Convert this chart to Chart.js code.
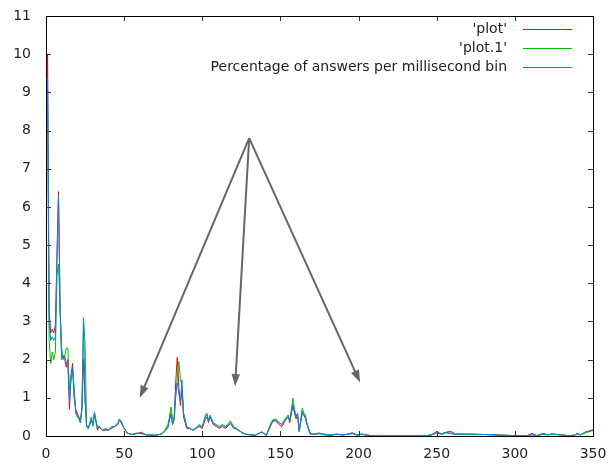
<!DOCTYPE html>
<html>
<head>
<meta charset="utf-8">
<script src="https://cdn.jsdelivr.net/npm/chart.js@4/dist/chart.umd.min.js"></script>
<style>
  body { margin: 0; background: #fff; }
  #wrap { width: 611px; height: 466px; }
</style>
</head>
<body>
<div id="wrap"><canvas id="chart" width="611" height="466"></canvas></div>
<script>
// =======================
// DATA (ms bins)
// =======================
const binMs = [
  0, 1, 2, 3, 4, 5, 6, 7, 8, 9, 10, 11, 12, 13, 14, 15, 16, 17, 18, 19,
  20, 21, 22, 23, 24, 25, 26, 27, 28, 29, 30, 31, 32, 33, 34, 36, 38, 40, 42, 44,
  46, 47, 48, 50, 52, 55, 58, 61, 64, 70, 74, 76, 78, 79, 80, 81, 82, 83, 84, 85,
  86, 87, 88, 90, 92, 94, 96, 98, 100, 102, 103, 104, 105, 107, 109, 111, 113, 115, 118, 120,
  122, 125, 128, 134, 138, 141, 143, 145, 147, 149, 151, 153, 155, 156, 158, 159, 160, 161, 162, 164,
  165, 166, 167, 169, 172, 175, 178, 182, 186, 190, 194, 196, 199, 202, 206, 210, 243, 247, 250, 253,
  256, 259, 262, 270, 280, 286, 300, 308, 311, 314, 318, 321, 324, 328, 334, 338, 340, 342, 345, 348,
  350
];

// 'plot' (red)
const plotValues = [
  7.5, 10.0, 3.3, 2.7, 2.8, 2.7, 2.9, 4.7, 6.4, 3.4, 2.1, 2.1, 2.0, 1.8, 2.0, 0.7, 1.6, 1.9, 1.0, 0.7,
  0.6, 0.5, 0.4, 0.7, 2.0, 0.9, 0.25, 0.2, 0.3, 0.4, 0.3, 0.55, 0.35, 0.15, 0.25, 0.15, 0.15, 0.15, 0.2, 0.25,
  0.3, 0.42, 0.35, 0.2, 0.08, 0.04, 0.06, 0.1, 0.03, 0.02, 0.05, 0.12, 0.25, 0.45, 0.6, 0.3, 0.5, 1.4, 2.06, 1.3,
  0.8, 1.2, 0.5, 0.2, 0.2, 0.15, 0.2, 0.25, 0.2, 0.45, 0.5, 0.35, 0.5, 0.3, 0.25, 0.2, 0.25, 0.2, 0.33, 0.2,
  0.18, 0.1, 0.04, 0.02, 0.1, 0.02, 0.2, 0.38, 0.4, 0.3, 0.25, 0.4, 0.5, 0.35, 0.8, 0.6, 0.45, 0.55, 0.12, 0.6,
  0.55, 0.45, 0.3, 0.05, 0.05, 0.08, 0.03, 0.02, 0.04, 0.03, 0.05, 0.06, 0.02, 0.05, 0.02, 0.0, 0.0, 0.03, 0.08, 0.05,
  0.1, 0.12, 0.05, 0.05, 0.04, 0.03, 0.01, 0.01, 0.07, 0.01, 0.07, 0.03, 0.05, 0.04, 0.01, 0.02, 0.07, 0.03, 0.1, 0.14,
  0.16
];

// 'plot.1' (green)
const plot1Values = [
  5.7, 9.0, 2.5, 1.9, 2.2, 2.0, 2.2, 4.2, 4.5, 3.3, 2.3, 2.0, 2.1, 2.3, 2.3, 1.2, 1.5, 1.7, 1.3, 0.6,
  0.5, 0.45, 0.35, 0.8, 3.1, 2.4, 0.3, 0.2, 0.35, 0.5, 0.25, 0.6, 0.4, 0.2, 0.25, 0.15, 0.2, 0.15, 0.25, 0.25,
  0.35, 0.44, 0.38, 0.2, 0.08, 0.04, 0.08, 0.06, 0.03, 0.02, 0.05, 0.15, 0.3, 0.5, 0.76, 0.45, 0.4, 1.0, 1.5, 1.95,
  1.5, 1.3, 0.6, 0.25, 0.2, 0.15, 0.22, 0.3, 0.25, 0.55, 0.6, 0.4, 0.55, 0.35, 0.3, 0.25, 0.3, 0.25, 0.4, 0.25,
  0.2, 0.1, 0.04, 0.02, 0.11, 0.02, 0.25, 0.42, 0.45, 0.35, 0.3, 0.45, 0.55, 0.4, 0.99, 0.7, 0.55, 0.5, 0.15, 0.73,
  0.6, 0.55, 0.35, 0.08, 0.04, 0.06, 0.05, 0.03, 0.05, 0.02, 0.06, 0.09, 0.03, 0.04, 0.02, 0.0, 0.0, 0.04, 0.12, 0.04,
  0.08, 0.06, 0.04, 0.04, 0.04, 0.03, 0.01, 0.01, 0.03, 0.01, 0.06, 0.03, 0.05, 0.03, 0.01, 0.02, 0.06, 0.03, 0.08, 0.12,
  0.14
];

// Percentage of answers per millisecond bin (blue)
const answerValues = [
  7.0, 9.4, 3.0, 2.5, 2.6, 2.5, 2.6, 4.6, 6.3, 3.4, 2.0, 2.1, 2.1, 1.9, 1.9, 0.9, 1.5, 1.8, 1.1, 0.7,
  0.5, 0.5, 0.35, 0.7, 3.0, 1.0, 0.25, 0.2, 0.3, 0.45, 0.3, 0.63, 0.4, 0.2, 0.25, 0.15, 0.18, 0.15, 0.22, 0.25,
  0.32, 0.44, 0.4, 0.2, 0.07, 0.04, 0.06, 0.07, 0.03, 0.02, 0.05, 0.12, 0.2, 0.4, 0.55, 0.3, 0.45, 1.1, 1.4, 1.1,
  0.9, 1.47, 0.6, 0.24, 0.2, 0.15, 0.2, 0.28, 0.22, 0.5, 0.55, 0.38, 0.52, 0.32, 0.28, 0.22, 0.28, 0.22, 0.35, 0.22,
  0.18, 0.1, 0.04, 0.02, 0.11, 0.02, 0.22, 0.4, 0.42, 0.35, 0.3, 0.42, 0.52, 0.4, 0.85, 0.65, 0.5, 0.6, 0.12, 0.65,
  0.55, 0.5, 0.3, 0.06, 0.05, 0.06, 0.04, 0.02, 0.05, 0.03, 0.05, 0.08, 0.03, 0.05, 0.02, 0.0, 0.0, 0.04, 0.11, 0.06,
  0.09, 0.08, 0.05, 0.05, 0.04, 0.03, 0.01, 0.01, 0.03, 0.01, 0.04, 0.03, 0.06, 0.03, 0.01, 0.02, 0.05, 0.03, 0.1, 0.13,
  0.15
];

const seriesLabels = ["'plot'", "'plot.1'", "Percentage of answers per millisecond bin"];
const seriesColors = ['#ff0000', '#00c000', '#0080ff'];

// arrows: one common start, three ends (data coords)
const arrowFrom = [130, 7.8];
const arrowToX = [60, 121, 201];
const arrowToY = [1.0, 1.3, 1.4];

const FONT = '"DejaVu Sans", sans-serif';


function toPoints(values) {
    return binMs.map((x, i) => ({ x: x, y: values[i] }));
}

// layout padding alone decides the plot box
function noScalePadding(s) {
    s.paddingTop = 0;
    s.paddingBottom = 0;
    s.paddingLeft = 0;
    s.paddingRight = 0;
}


// =======================
// FRAME + INWARD TICKS
// =======================
const framePlugin = {
    id: 'frame',
    afterDraw(chart) {
        const ctx = chart.ctx;
        const a = chart.chartArea;
        const xs = chart.scales.x;
        const ys = chart.scales.y;
        const len = 5;

        ctx.save();
        ctx.strokeStyle = '#333';
        ctx.lineWidth = 1;
        ctx.beginPath();
        xs.ticks.forEach(t => {
            const px = Math.round(xs.getPixelForValue(t.value)) + 0.5;
            ctx.moveTo(px, a.bottom); ctx.lineTo(px, a.bottom - len);
            ctx.moveTo(px, a.top); ctx.lineTo(px, a.top + len);
        });
        ys.ticks.forEach(t => {
            const py = Math.round(ys.getPixelForValue(t.value)) + 0.5;
            ctx.moveTo(a.left, py); ctx.lineTo(a.left + len, py);
            ctx.moveTo(a.right, py); ctx.lineTo(a.right - len, py);
        });
        ctx.stroke();

        ctx.strokeStyle = '#000';
        ctx.strokeRect(Math.round(a.left) + 0.5, Math.round(a.top) + 0.5,
            Math.round(a.right - a.left), Math.round(a.bottom - a.top));
        ctx.restore();
    }
};


// =======================
// ARROWS
// =======================
const arrowPlugin = {
    id: 'arrows',
    afterDatasetsDraw(chart) {
        const ctx = chart.ctx;
        const xs = chart.scales.x;
        const ys = chart.scales.y;
        const x0 = xs.getPixelForValue(arrowFrom[0]);
        const y0 = ys.getPixelForValue(arrowFrom[1]);
        const headLen = 13;
        const headAng = 19 * Math.PI / 180;

        ctx.save();
        ctx.strokeStyle = '#666';
        ctx.fillStyle = '#666';
        ctx.lineWidth = 2;
        for (let i = 0; i < arrowToX.length; i++) {
            const x1 = xs.getPixelForValue(arrowToX[i]);
            const y1 = ys.getPixelForValue(arrowToY[i]);
            const ang = Math.atan2(y1 - y0, x1 - x0);
            ctx.beginPath();
            ctx.moveTo(x0, y0);
            ctx.lineTo(x1 - Math.cos(ang) * headLen * 0.8, y1 - Math.sin(ang) * headLen * 0.8);
            ctx.stroke();
            ctx.beginPath();
            ctx.moveTo(x1, y1);
            ctx.lineTo(x1 - headLen * Math.cos(ang - headAng), y1 - headLen * Math.sin(ang - headAng));
            ctx.lineTo(x1 - headLen * Math.cos(ang + headAng), y1 - headLen * Math.sin(ang + headAng));
            ctx.closePath();
            ctx.fill();
        }
        ctx.restore();
    }
};


// =======================
// GNUPLOT-STYLE KEY
// =======================
const keyPlugin = {
    id: 'key',
    afterDraw(chart) {
        const ctx = chart.ctx;
        const a = chart.chartArea;
        const textRight = a.right - 86;
        const lineL = a.right - 70;
        const lineR = a.right - 21;
        ctx.save();
        ctx.font = '14px ' + FONT;
        ctx.textAlign = 'right';
        ctx.textBaseline = 'middle';
        chart.data.datasets.forEach((ds, i) => {
            const y = a.top + 13 + i * 19;
            ctx.fillStyle = '#222';
            ctx.fillText(ds.label, textRight, y);
            ctx.strokeStyle = ds.borderColor;
            ctx.lineWidth = 1;
            ctx.beginPath();
            ctx.moveTo(lineL, Math.round(y) + 0.5);
            ctx.lineTo(lineR, Math.round(y) + 0.5);
            ctx.stroke();
        });
        ctx.restore();
    }
};


// =======================
// DRAW CHART
// =======================
const allValues = [plotValues, plot1Values, answerValues];

new Chart(document.getElementById('chart').getContext('2d'), {
    type: 'line',
    data: {
        datasets: allValues.map((vals, i) => ({
            label: seriesLabels[i],
            data: toPoints(vals),
            borderColor: seriesColors[i],
            backgroundColor: seriesColors[i],
            borderWidth: 1,
            pointRadius: 0,
            tension: 0,
            fill: false,
            order: 3 - i
        }))
    },
    options: {
        responsive: false,
        animation: false,
        layout: { padding: { left: 0, top: 16, right: 18, bottom: 0 } },
        plugins: {
            legend: { display: false },
            tooltip: { enabled: false }
        },
        scales: {
            x: {
                type: 'linear',
                min: 0,
                max: 350,
                ticks: { stepSize: 50, padding: 10, color: '#222', font: { family: FONT, size: 14 } },
                grid: { display: false, drawTicks: false },
                border: { display: false },
                afterFit(s) { s.height = 30; noScalePadding(s); }
            },
            y: {
                min: 0,
                max: 11,
                ticks: { stepSize: 1, padding: 15, color: '#222', font: { family: FONT, size: 14 } },
                grid: { display: false, drawTicks: false },
                border: { display: false },
                afterFit(s) { s.width = 46; noScalePadding(s); }
            }
        }
    },
    plugins: [framePlugin, arrowPlugin, keyPlugin]
});
</script>
</body>
</html>
